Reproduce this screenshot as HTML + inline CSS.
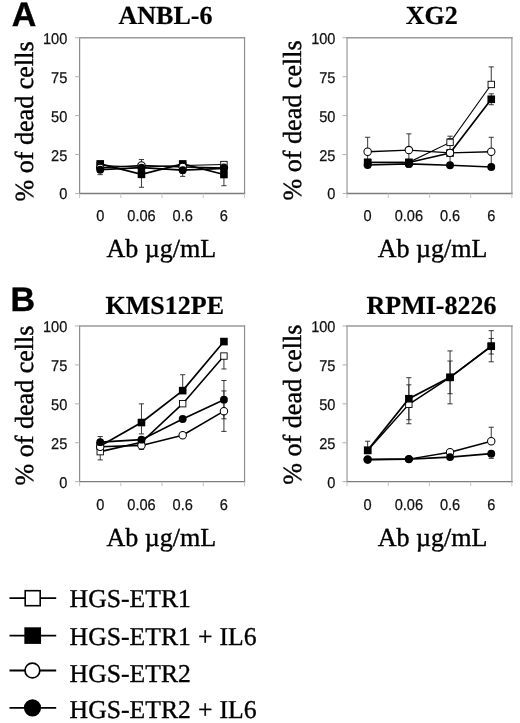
<!DOCTYPE html>
<html lang="en"><head><meta charset="utf-8"><title>Figure</title>
<style>
html,body{margin:0;padding:0;background:#fff;}
body{width:520px;height:723px;overflow:hidden;}
svg{display:block;will-change:transform;filter:blur(0.35px);}
text{fill:#000;text-rendering:geometricPrecision;}
.tk{font-family:"Liberation Sans",sans-serif;font-size:15.6px;fill:#111;stroke:#111;stroke-width:0.25px;}
.tt{font-family:"Liberation Serif",serif;font-weight:bold;font-size:26px;stroke:#000;stroke-width:0.2px;}
.yl{font-family:"Liberation Serif",serif;font-size:26.1px;stroke:#000;stroke-width:0.4px;}
.xl{font-family:"Liberation Serif",serif;font-size:26px;stroke:#000;stroke-width:0.4px;}
.pl{font-family:"Liberation Sans",sans-serif;font-weight:bold;font-size:34px;stroke:#000;stroke-width:0.4px;}
.lg{font-family:"Liberation Serif",serif;font-size:25.7px;word-spacing:0.6px;stroke:#000;stroke-width:0.35px;}
</style></head>
<body>
<svg width="520" height="723" viewBox="0 0 520 723">
<rect x="0" y="0" width="520" height="723" fill="#fff"/>
<g id="A1">
<line x1="79.6" y1="37.15" x2="79.6" y2="194.1" stroke="#8c8c8c" stroke-width="1.2"/>
<line x1="244.55" y1="37.15" x2="244.55" y2="194.1" stroke="#8c8c8c" stroke-width="1.2"/>
<line x1="79" y1="37.75" x2="245.15" y2="37.75" stroke="#9a9a9a" stroke-width="1.3"/>
<line x1="79" y1="193.5" x2="245.15" y2="193.5" stroke="#7c7c7c" stroke-width="1.3"/>
<line x1="75.1" y1="193.5" x2="79.6" y2="193.5" stroke="#b0b0b0" stroke-width="1"/>
<text transform="translate(67.3,199.45) scale(0.936,1)" text-anchor="end" class="tk">0</text>
<line x1="75.1" y1="154.56" x2="79.6" y2="154.56" stroke="#b0b0b0" stroke-width="1"/>
<text transform="translate(67.3,160.51) scale(0.936,1)" text-anchor="end" class="tk">25</text>
<line x1="75.1" y1="115.62" x2="79.6" y2="115.62" stroke="#b0b0b0" stroke-width="1"/>
<text transform="translate(67.3,121.58) scale(0.936,1)" text-anchor="end" class="tk">50</text>
<line x1="75.1" y1="76.69" x2="79.6" y2="76.69" stroke="#b0b0b0" stroke-width="1"/>
<text transform="translate(67.3,82.64) scale(0.936,1)" text-anchor="end" class="tk">75</text>
<line x1="75.1" y1="37.75" x2="79.6" y2="37.75" stroke="#b0b0b0" stroke-width="1"/>
<text transform="translate(67.3,43.7) scale(0.936,1)" text-anchor="end" class="tk">100</text>
<line x1="79.6" y1="193.5" x2="79.6" y2="198" stroke="#c4c4c4" stroke-width="1"/>
<line x1="120.84" y1="193.5" x2="120.84" y2="198" stroke="#c4c4c4" stroke-width="1"/>
<line x1="162.07" y1="193.5" x2="162.07" y2="198" stroke="#c4c4c4" stroke-width="1"/>
<line x1="203.31" y1="193.5" x2="203.31" y2="198" stroke="#c4c4c4" stroke-width="1"/>
<line x1="244.55" y1="193.5" x2="244.55" y2="198" stroke="#c4c4c4" stroke-width="1"/>
<text transform="translate(100.22,221.4) scale(0.936,1)" text-anchor="middle" class="tk">0</text>
<text transform="translate(141.46,221.4) scale(0.936,1)" text-anchor="middle" class="tk">0.06</text>
<text transform="translate(182.69,221.4) scale(0.936,1)" text-anchor="middle" class="tk">0.6</text>
<text transform="translate(223.93,221.4) scale(0.936,1)" text-anchor="middle" class="tk">6</text>
<line x1="141.46" y1="174.34" x2="141.46" y2="187.27" stroke="#222" stroke-width="0.9"/>
<line x1="138.86" y1="187.27" x2="144.06" y2="187.27" stroke="#222" stroke-width="0.9"/>
<line x1="223.93" y1="174.5" x2="223.93" y2="185.71" stroke="#222" stroke-width="0.9"/>
<line x1="221.33" y1="185.71" x2="226.53" y2="185.71" stroke="#222" stroke-width="0.9"/>
<line x1="141.46" y1="159.55" x2="141.46" y2="165.47" stroke="#222" stroke-width="0.9"/>
<line x1="138.86" y1="159.55" x2="144.06" y2="159.55" stroke="#222" stroke-width="0.9"/>
<line x1="100.22" y1="169.67" x2="100.22" y2="174.65" stroke="#222" stroke-width="0.9"/>
<line x1="97.62" y1="174.65" x2="102.82" y2="174.65" stroke="#222" stroke-width="0.9"/>
<line x1="182.69" y1="170.14" x2="182.69" y2="176.37" stroke="#222" stroke-width="0.9"/>
<line x1="180.09" y1="176.37" x2="185.29" y2="176.37" stroke="#222" stroke-width="0.9"/>
<polyline points="100.22,165.47 141.46,167.02 182.69,165.47 223.93,164.53" fill="none" stroke="#000" stroke-width="1.1"/>
<rect x="97.02" y="162.27" width="6.4" height="6.4" fill="#fff" stroke="#000" stroke-width="0.9"/>
<rect x="138.26" y="163.82" width="6.4" height="6.4" fill="#fff" stroke="#000" stroke-width="0.9"/>
<rect x="179.49" y="162.27" width="6.4" height="6.4" fill="#fff" stroke="#000" stroke-width="0.9"/>
<rect x="220.73" y="161.33" width="6.4" height="6.4" fill="#fff" stroke="#000" stroke-width="0.9"/>
<polyline points="100.22,163.91 141.46,174.34 182.69,163.91 223.93,174.5" fill="none" stroke="#000" stroke-width="1.7"/>
<rect x="96.42" y="160.11" width="7.6" height="7.6" fill="#000"/>
<rect x="137.66" y="170.54" width="7.6" height="7.6" fill="#000"/>
<rect x="178.89" y="160.11" width="7.6" height="7.6" fill="#000"/>
<rect x="220.13" y="170.7" width="7.6" height="7.6" fill="#000"/>
<polyline points="100.22,167.8 141.46,165.47 182.69,167.02 223.93,167.8" fill="none" stroke="#000" stroke-width="1.3"/>
<circle cx="100.22" cy="167.8" r="3.7" fill="#fff" stroke="#000" stroke-width="1.05"/>
<circle cx="141.46" cy="165.47" r="3.7" fill="#fff" stroke="#000" stroke-width="1.05"/>
<circle cx="182.69" cy="167.02" r="3.7" fill="#fff" stroke="#000" stroke-width="1.05"/>
<circle cx="223.93" cy="167.8" r="3.7" fill="#fff" stroke="#000" stroke-width="1.05"/>
<polyline points="100.22,169.67 141.46,167.65 182.69,170.14 223.93,168.42" fill="none" stroke="#000" stroke-width="1.6"/>
<circle cx="100.22" cy="169.67" r="3.95" fill="#000"/>
<circle cx="141.46" cy="167.65" r="3.95" fill="#000"/>
<circle cx="182.69" cy="170.14" r="3.95" fill="#000"/>
<circle cx="223.93" cy="168.42" r="3.95" fill="#000"/>
<text x="165.5" y="24" text-anchor="middle" class="tt">ANBL-6</text>
<text transform="translate(33.3,121.52) rotate(-90)" text-anchor="middle" class="yl">% of dead cells</text>
<text x="161.38" y="256.8" text-anchor="middle" class="xl">Ab µg/mL</text>
</g>
<g id="A2">
<line x1="347.05" y1="37.15" x2="347.05" y2="194.1" stroke="#b2b2b2" stroke-width="1.6"/>
<line x1="511.85" y1="37.15" x2="511.85" y2="194.1" stroke="#b2b2b2" stroke-width="1.6"/>
<line x1="346.25" y1="37.75" x2="512.65" y2="37.75" stroke="#9a9a9a" stroke-width="1.3"/>
<line x1="346.25" y1="193.5" x2="512.65" y2="193.5" stroke="#7c7c7c" stroke-width="1.3"/>
<line x1="342.55" y1="193.5" x2="347.05" y2="193.5" stroke="#b0b0b0" stroke-width="1"/>
<text transform="translate(335.5,199.45) scale(0.936,1)" text-anchor="end" class="tk">0</text>
<line x1="342.55" y1="154.56" x2="347.05" y2="154.56" stroke="#b0b0b0" stroke-width="1"/>
<text transform="translate(335.5,160.51) scale(0.936,1)" text-anchor="end" class="tk">25</text>
<line x1="342.55" y1="115.62" x2="347.05" y2="115.62" stroke="#b0b0b0" stroke-width="1"/>
<text transform="translate(335.5,121.58) scale(0.936,1)" text-anchor="end" class="tk">50</text>
<line x1="342.55" y1="76.69" x2="347.05" y2="76.69" stroke="#b0b0b0" stroke-width="1"/>
<text transform="translate(335.5,82.64) scale(0.936,1)" text-anchor="end" class="tk">75</text>
<line x1="342.55" y1="37.75" x2="347.05" y2="37.75" stroke="#b0b0b0" stroke-width="1"/>
<text transform="translate(335.5,43.7) scale(0.936,1)" text-anchor="end" class="tk">100</text>
<line x1="347.05" y1="193.5" x2="347.05" y2="198" stroke="#c4c4c4" stroke-width="1"/>
<line x1="388.25" y1="193.5" x2="388.25" y2="198" stroke="#c4c4c4" stroke-width="1"/>
<line x1="429.45" y1="193.5" x2="429.45" y2="198" stroke="#c4c4c4" stroke-width="1"/>
<line x1="470.65" y1="193.5" x2="470.65" y2="198" stroke="#c4c4c4" stroke-width="1"/>
<line x1="511.85" y1="193.5" x2="511.85" y2="198" stroke="#c4c4c4" stroke-width="1"/>
<text transform="translate(367.65,221.4) scale(0.936,1)" text-anchor="middle" class="tk">0</text>
<text transform="translate(408.85,221.4) scale(0.936,1)" text-anchor="middle" class="tk">0.06</text>
<text transform="translate(450.05,221.4) scale(0.936,1)" text-anchor="middle" class="tk">0.6</text>
<text transform="translate(491.25,221.4) scale(0.936,1)" text-anchor="middle" class="tk">6</text>
<line x1="450.05" y1="136.18" x2="450.05" y2="142.41" stroke="#222" stroke-width="0.9"/>
<line x1="447.45" y1="136.18" x2="452.65" y2="136.18" stroke="#222" stroke-width="0.9"/>
<line x1="491.25" y1="66.88" x2="491.25" y2="84.47" stroke="#222" stroke-width="0.9"/>
<line x1="488.65" y1="66.88" x2="493.85" y2="66.88" stroke="#222" stroke-width="0.9"/>
<line x1="408.85" y1="162.51" x2="408.85" y2="167.33" stroke="#222" stroke-width="0.9"/>
<line x1="406.25" y1="167.33" x2="411.45" y2="167.33" stroke="#222" stroke-width="0.9"/>
<line x1="491.25" y1="93.82" x2="491.25" y2="104.72" stroke="#222" stroke-width="0.9"/>
<line x1="488.65" y1="93.82" x2="493.85" y2="93.82" stroke="#222" stroke-width="0.9"/>
<line x1="488.65" y1="104.72" x2="493.85" y2="104.72" stroke="#222" stroke-width="0.9"/>
<line x1="367.65" y1="137.27" x2="367.65" y2="166.24" stroke="#222" stroke-width="0.9"/>
<line x1="365.05" y1="137.27" x2="370.25" y2="137.27" stroke="#222" stroke-width="0.9"/>
<line x1="365.05" y1="166.24" x2="370.25" y2="166.24" stroke="#222" stroke-width="0.9"/>
<line x1="408.85" y1="133.85" x2="408.85" y2="166.24" stroke="#222" stroke-width="0.9"/>
<line x1="406.25" y1="133.85" x2="411.45" y2="133.85" stroke="#222" stroke-width="0.9"/>
<line x1="406.25" y1="166.24" x2="411.45" y2="166.24" stroke="#222" stroke-width="0.9"/>
<line x1="450.05" y1="138.52" x2="450.05" y2="167.18" stroke="#222" stroke-width="0.9"/>
<line x1="447.45" y1="138.52" x2="452.65" y2="138.52" stroke="#222" stroke-width="0.9"/>
<line x1="447.45" y1="167.18" x2="452.65" y2="167.18" stroke="#222" stroke-width="0.9"/>
<line x1="491.25" y1="137.27" x2="491.25" y2="166.24" stroke="#222" stroke-width="0.9"/>
<line x1="488.65" y1="137.27" x2="493.85" y2="137.27" stroke="#222" stroke-width="0.9"/>
<line x1="488.65" y1="166.24" x2="493.85" y2="166.24" stroke="#222" stroke-width="0.9"/>
<polyline points="367.65,162.35 408.85,162.35 450.05,142.41 491.25,84.47" fill="none" stroke="#000" stroke-width="1.1"/>
<rect x="364.45" y="159.15" width="6.4" height="6.4" fill="#fff" stroke="#000" stroke-width="0.9"/>
<rect x="405.65" y="159.15" width="6.4" height="6.4" fill="#fff" stroke="#000" stroke-width="0.9"/>
<rect x="446.85" y="139.21" width="6.4" height="6.4" fill="#fff" stroke="#000" stroke-width="0.9"/>
<rect x="488.05" y="81.27" width="6.4" height="6.4" fill="#fff" stroke="#000" stroke-width="0.9"/>
<polyline points="367.65,162.51 408.85,162.51 450.05,153 491.25,99.27" fill="none" stroke="#000" stroke-width="1.7"/>
<rect x="363.85" y="158.71" width="7.6" height="7.6" fill="#000"/>
<rect x="405.05" y="158.71" width="7.6" height="7.6" fill="#000"/>
<rect x="446.25" y="149.2" width="7.6" height="7.6" fill="#000"/>
<rect x="487.45" y="95.47" width="7.6" height="7.6" fill="#000"/>
<polyline points="367.65,151.76 408.85,150.05 450.05,152.85 491.25,151.76" fill="none" stroke="#000" stroke-width="1.3"/>
<circle cx="367.65" cy="151.76" r="3.7" fill="#fff" stroke="#000" stroke-width="1.05"/>
<circle cx="408.85" cy="150.05" r="3.7" fill="#fff" stroke="#000" stroke-width="1.05"/>
<circle cx="450.05" cy="152.85" r="3.7" fill="#fff" stroke="#000" stroke-width="1.05"/>
<circle cx="491.25" cy="151.76" r="3.7" fill="#fff" stroke="#000" stroke-width="1.05"/>
<polyline points="367.65,165 408.85,163.91 450.05,165.31 491.25,167.02" fill="none" stroke="#000" stroke-width="1.6"/>
<circle cx="367.65" cy="165" r="3.95" fill="#000"/>
<circle cx="408.85" cy="163.91" r="3.95" fill="#000"/>
<circle cx="450.05" cy="165.31" r="3.95" fill="#000"/>
<circle cx="491.25" cy="167.02" r="3.95" fill="#000"/>
<text x="431.7" y="24" text-anchor="middle" class="tt">XG2</text>
<text transform="translate(300.75,120.42) rotate(-90)" text-anchor="middle" class="yl">% of dead cells</text>
<text x="432.55" y="256.8" text-anchor="middle" class="xl">Ab µg/mL</text>
</g>
<g id="B1">
<line x1="79.6" y1="325.4" x2="79.6" y2="482.3" stroke="#8c8c8c" stroke-width="1.2"/>
<line x1="244.55" y1="325.4" x2="244.55" y2="482.3" stroke="#8c8c8c" stroke-width="1.2"/>
<line x1="79" y1="326" x2="245.15" y2="326" stroke="#9a9a9a" stroke-width="1.3"/>
<line x1="79" y1="481.7" x2="245.15" y2="481.7" stroke="#7c7c7c" stroke-width="1.3"/>
<line x1="75.1" y1="481.7" x2="79.6" y2="481.7" stroke="#b0b0b0" stroke-width="1"/>
<text transform="translate(67.3,487.65) scale(0.936,1)" text-anchor="end" class="tk">0</text>
<line x1="75.1" y1="442.77" x2="79.6" y2="442.77" stroke="#b0b0b0" stroke-width="1"/>
<text transform="translate(67.3,448.72) scale(0.936,1)" text-anchor="end" class="tk">25</text>
<line x1="75.1" y1="403.85" x2="79.6" y2="403.85" stroke="#b0b0b0" stroke-width="1"/>
<text transform="translate(67.3,409.8) scale(0.936,1)" text-anchor="end" class="tk">50</text>
<line x1="75.1" y1="364.93" x2="79.6" y2="364.93" stroke="#b0b0b0" stroke-width="1"/>
<text transform="translate(67.3,370.88) scale(0.936,1)" text-anchor="end" class="tk">75</text>
<line x1="75.1" y1="326" x2="79.6" y2="326" stroke="#b0b0b0" stroke-width="1"/>
<text transform="translate(67.3,331.95) scale(0.936,1)" text-anchor="end" class="tk">100</text>
<line x1="79.6" y1="481.7" x2="79.6" y2="486.2" stroke="#c4c4c4" stroke-width="1"/>
<line x1="120.84" y1="481.7" x2="120.84" y2="486.2" stroke="#c4c4c4" stroke-width="1"/>
<line x1="162.07" y1="481.7" x2="162.07" y2="486.2" stroke="#c4c4c4" stroke-width="1"/>
<line x1="203.31" y1="481.7" x2="203.31" y2="486.2" stroke="#c4c4c4" stroke-width="1"/>
<line x1="244.55" y1="481.7" x2="244.55" y2="486.2" stroke="#c4c4c4" stroke-width="1"/>
<text transform="translate(100.22,509.6) scale(0.936,1)" text-anchor="middle" class="tk">0</text>
<text transform="translate(141.46,509.6) scale(0.936,1)" text-anchor="middle" class="tk">0.06</text>
<text transform="translate(182.69,509.6) scale(0.936,1)" text-anchor="middle" class="tk">0.6</text>
<text transform="translate(223.93,509.6) scale(0.936,1)" text-anchor="middle" class="tk">6</text>
<line x1="100.22" y1="451.65" x2="100.22" y2="459.9" stroke="#222" stroke-width="0.9"/>
<line x1="97.62" y1="459.9" x2="102.82" y2="459.9" stroke="#222" stroke-width="0.9"/>
<line x1="223.93" y1="356.05" x2="223.93" y2="368.97" stroke="#222" stroke-width="0.9"/>
<line x1="221.33" y1="368.97" x2="226.53" y2="368.97" stroke="#222" stroke-width="0.9"/>
<line x1="141.46" y1="403.85" x2="141.46" y2="433.9" stroke="#222" stroke-width="0.9"/>
<line x1="138.86" y1="403.85" x2="144.06" y2="403.85" stroke="#222" stroke-width="0.9"/>
<line x1="138.86" y1="433.9" x2="144.06" y2="433.9" stroke="#222" stroke-width="0.9"/>
<line x1="182.69" y1="374.73" x2="182.69" y2="390.62" stroke="#222" stroke-width="0.9"/>
<line x1="180.09" y1="374.73" x2="185.29" y2="374.73" stroke="#222" stroke-width="0.9"/>
<line x1="141.46" y1="445.42" x2="141.46" y2="449.47" stroke="#222" stroke-width="0.9"/>
<line x1="138.86" y1="449.47" x2="144.06" y2="449.47" stroke="#222" stroke-width="0.9"/>
<line x1="223.93" y1="390.93" x2="223.93" y2="431.41" stroke="#222" stroke-width="0.9"/>
<line x1="221.33" y1="390.93" x2="226.53" y2="390.93" stroke="#222" stroke-width="0.9"/>
<line x1="221.33" y1="431.41" x2="226.53" y2="431.41" stroke="#222" stroke-width="0.9"/>
<line x1="100.22" y1="436.55" x2="100.22" y2="442.15" stroke="#222" stroke-width="0.9"/>
<line x1="97.62" y1="436.55" x2="102.82" y2="436.55" stroke="#222" stroke-width="0.9"/>
<line x1="223.93" y1="380.5" x2="223.93" y2="418.8" stroke="#222" stroke-width="0.9"/>
<line x1="221.33" y1="380.5" x2="226.53" y2="380.5" stroke="#222" stroke-width="0.9"/>
<line x1="221.33" y1="418.8" x2="226.53" y2="418.8" stroke="#222" stroke-width="0.9"/>
<polyline points="100.22,451.65 141.46,442.31 182.69,403.69 223.93,356.05" fill="none" stroke="#000" stroke-width="1.6"/>
<rect x="97.02" y="448.45" width="6.4" height="6.4" fill="#fff" stroke="#000" stroke-width="0.9"/>
<rect x="138.26" y="439.11" width="6.4" height="6.4" fill="#fff" stroke="#000" stroke-width="0.9"/>
<rect x="179.49" y="400.49" width="6.4" height="6.4" fill="#fff" stroke="#000" stroke-width="0.9"/>
<rect x="220.73" y="352.85" width="6.4" height="6.4" fill="#fff" stroke="#000" stroke-width="0.9"/>
<polyline points="100.22,445.89 141.46,422.53 182.69,390.62 223.93,341.57" fill="none" stroke="#000" stroke-width="1.7"/>
<rect x="96.42" y="442.09" width="7.6" height="7.6" fill="#000"/>
<rect x="137.66" y="418.73" width="7.6" height="7.6" fill="#000"/>
<rect x="178.89" y="386.82" width="7.6" height="7.6" fill="#000"/>
<rect x="220.13" y="337.77" width="7.6" height="7.6" fill="#000"/>
<polyline points="100.22,446.82 141.46,445.42 182.69,435.3 223.93,411.17" fill="none" stroke="#000" stroke-width="1.6"/>
<circle cx="100.22" cy="446.82" r="3.7" fill="#fff" stroke="#000" stroke-width="1.05"/>
<circle cx="141.46" cy="445.42" r="3.7" fill="#fff" stroke="#000" stroke-width="1.05"/>
<circle cx="182.69" cy="435.3" r="3.7" fill="#fff" stroke="#000" stroke-width="1.05"/>
<circle cx="223.93" cy="411.17" r="3.7" fill="#fff" stroke="#000" stroke-width="1.05"/>
<polyline points="100.22,442.15 141.46,439.66 182.69,418.95 223.93,399.65" fill="none" stroke="#000" stroke-width="1.65"/>
<circle cx="100.22" cy="442.15" r="3.95" fill="#000"/>
<circle cx="141.46" cy="439.66" r="3.95" fill="#000"/>
<circle cx="182.69" cy="418.95" r="3.95" fill="#000"/>
<circle cx="223.93" cy="399.65" r="3.95" fill="#000"/>
<text x="164.8" y="313.9" text-anchor="middle" class="tt">KMS12PE</text>
<text transform="translate(33.3,405.55) rotate(-90)" text-anchor="middle" class="yl">% of dead cells</text>
<text x="161.38" y="546.4" text-anchor="middle" class="xl">Ab µg/mL</text>
</g>
<g id="B2">
<line x1="347.05" y1="325.4" x2="347.05" y2="482.3" stroke="#b2b2b2" stroke-width="1.6"/>
<line x1="511.85" y1="325.4" x2="511.85" y2="482.3" stroke="#b2b2b2" stroke-width="1.6"/>
<line x1="346.25" y1="326" x2="512.65" y2="326" stroke="#9a9a9a" stroke-width="1.3"/>
<line x1="346.25" y1="481.7" x2="512.65" y2="481.7" stroke="#7c7c7c" stroke-width="1.3"/>
<line x1="342.55" y1="481.7" x2="347.05" y2="481.7" stroke="#b0b0b0" stroke-width="1"/>
<text transform="translate(335.5,487.65) scale(0.936,1)" text-anchor="end" class="tk">0</text>
<line x1="342.55" y1="442.77" x2="347.05" y2="442.77" stroke="#b0b0b0" stroke-width="1"/>
<text transform="translate(335.5,448.72) scale(0.936,1)" text-anchor="end" class="tk">25</text>
<line x1="342.55" y1="403.85" x2="347.05" y2="403.85" stroke="#b0b0b0" stroke-width="1"/>
<text transform="translate(335.5,409.8) scale(0.936,1)" text-anchor="end" class="tk">50</text>
<line x1="342.55" y1="364.93" x2="347.05" y2="364.93" stroke="#b0b0b0" stroke-width="1"/>
<text transform="translate(335.5,370.88) scale(0.936,1)" text-anchor="end" class="tk">75</text>
<line x1="342.55" y1="326" x2="347.05" y2="326" stroke="#b0b0b0" stroke-width="1"/>
<text transform="translate(335.5,331.95) scale(0.936,1)" text-anchor="end" class="tk">100</text>
<line x1="347.05" y1="481.7" x2="347.05" y2="486.2" stroke="#c4c4c4" stroke-width="1"/>
<line x1="388.25" y1="481.7" x2="388.25" y2="486.2" stroke="#c4c4c4" stroke-width="1"/>
<line x1="429.45" y1="481.7" x2="429.45" y2="486.2" stroke="#c4c4c4" stroke-width="1"/>
<line x1="470.65" y1="481.7" x2="470.65" y2="486.2" stroke="#c4c4c4" stroke-width="1"/>
<line x1="511.85" y1="481.7" x2="511.85" y2="486.2" stroke="#c4c4c4" stroke-width="1"/>
<text transform="translate(367.65,509.6) scale(0.936,1)" text-anchor="middle" class="tk">0</text>
<text transform="translate(408.85,509.6) scale(0.936,1)" text-anchor="middle" class="tk">0.06</text>
<text transform="translate(450.05,509.6) scale(0.936,1)" text-anchor="middle" class="tk">0.6</text>
<text transform="translate(491.25,509.6) scale(0.936,1)" text-anchor="middle" class="tk">6</text>
<line x1="408.85" y1="384.85" x2="408.85" y2="423.78" stroke="#222" stroke-width="0.9"/>
<line x1="406.25" y1="384.85" x2="411.45" y2="384.85" stroke="#222" stroke-width="0.9"/>
<line x1="406.25" y1="423.78" x2="411.45" y2="423.78" stroke="#222" stroke-width="0.9"/>
<line x1="450.05" y1="361.03" x2="450.05" y2="393.73" stroke="#222" stroke-width="0.9"/>
<line x1="447.45" y1="361.03" x2="452.65" y2="361.03" stroke="#222" stroke-width="0.9"/>
<line x1="447.45" y1="393.73" x2="452.65" y2="393.73" stroke="#222" stroke-width="0.9"/>
<line x1="491.25" y1="338.46" x2="491.25" y2="354.03" stroke="#222" stroke-width="0.9"/>
<line x1="488.65" y1="338.46" x2="493.85" y2="338.46" stroke="#222" stroke-width="0.9"/>
<line x1="488.65" y1="354.03" x2="493.85" y2="354.03" stroke="#222" stroke-width="0.9"/>
<line x1="367.65" y1="441.22" x2="367.65" y2="450.25" stroke="#222" stroke-width="0.9"/>
<line x1="365.05" y1="441.22" x2="370.25" y2="441.22" stroke="#222" stroke-width="0.9"/>
<line x1="408.85" y1="377.69" x2="408.85" y2="419.73" stroke="#222" stroke-width="0.9"/>
<line x1="406.25" y1="377.69" x2="411.45" y2="377.69" stroke="#222" stroke-width="0.9"/>
<line x1="406.25" y1="419.73" x2="411.45" y2="419.73" stroke="#222" stroke-width="0.9"/>
<line x1="450.05" y1="350.91" x2="450.05" y2="403.85" stroke="#222" stroke-width="0.9"/>
<line x1="447.45" y1="350.91" x2="452.65" y2="350.91" stroke="#222" stroke-width="0.9"/>
<line x1="447.45" y1="403.85" x2="452.65" y2="403.85" stroke="#222" stroke-width="0.9"/>
<line x1="491.25" y1="330.67" x2="491.25" y2="361.81" stroke="#222" stroke-width="0.9"/>
<line x1="488.65" y1="330.67" x2="493.85" y2="330.67" stroke="#222" stroke-width="0.9"/>
<line x1="488.65" y1="361.81" x2="493.85" y2="361.81" stroke="#222" stroke-width="0.9"/>
<line x1="491.25" y1="427.2" x2="491.25" y2="441.22" stroke="#222" stroke-width="0.9"/>
<line x1="488.65" y1="427.2" x2="493.85" y2="427.2" stroke="#222" stroke-width="0.9"/>
<line x1="491.25" y1="453.67" x2="491.25" y2="458.34" stroke="#222" stroke-width="0.9"/>
<line x1="488.65" y1="458.34" x2="493.85" y2="458.34" stroke="#222" stroke-width="0.9"/>
<polyline points="367.65,450.56 408.85,404.32 450.05,377.38 491.25,346.24" fill="none" stroke="#000" stroke-width="1.4"/>
<rect x="364.45" y="447.36" width="6.4" height="6.4" fill="#fff" stroke="#000" stroke-width="0.9"/>
<rect x="405.65" y="401.12" width="6.4" height="6.4" fill="#fff" stroke="#000" stroke-width="0.9"/>
<rect x="446.85" y="374.18" width="6.4" height="6.4" fill="#fff" stroke="#000" stroke-width="0.9"/>
<rect x="488.05" y="343.04" width="6.4" height="6.4" fill="#fff" stroke="#000" stroke-width="0.9"/>
<polyline points="367.65,450.25 408.85,398.71 450.05,377.38 491.25,346.24" fill="none" stroke="#000" stroke-width="1.75"/>
<rect x="363.85" y="446.45" width="7.6" height="7.6" fill="#000"/>
<rect x="405.05" y="394.91" width="7.6" height="7.6" fill="#000"/>
<rect x="446.25" y="373.58" width="7.6" height="7.6" fill="#000"/>
<rect x="487.45" y="342.44" width="7.6" height="7.6" fill="#000"/>
<polyline points="367.65,459.59 408.85,459.12 450.05,452.27 491.25,441.22" fill="none" stroke="#000" stroke-width="1.5"/>
<circle cx="367.65" cy="459.59" r="3.7" fill="#fff" stroke="#000" stroke-width="1.05"/>
<circle cx="408.85" cy="459.12" r="3.7" fill="#fff" stroke="#000" stroke-width="1.05"/>
<circle cx="450.05" cy="452.27" r="3.7" fill="#fff" stroke="#000" stroke-width="1.05"/>
<circle cx="491.25" cy="441.22" r="3.7" fill="#fff" stroke="#000" stroke-width="1.05"/>
<polyline points="367.65,459.59 408.85,459.12 450.05,457.1 491.25,453.67" fill="none" stroke="#000" stroke-width="1.8"/>
<circle cx="367.65" cy="459.59" r="3.95" fill="#000"/>
<circle cx="408.85" cy="459.12" r="3.95" fill="#000"/>
<circle cx="450.05" cy="457.1" r="3.95" fill="#000"/>
<circle cx="491.25" cy="453.67" r="3.95" fill="#000"/>
<text x="431.5" y="313.5" text-anchor="middle" class="tt">RPMI-8226</text>
<text transform="translate(300.75,404.65) rotate(-90)" text-anchor="middle" class="yl">% of dead cells</text>
<text x="432.55" y="546.4" text-anchor="middle" class="xl">Ab µg/mL</text>
</g>
<text x="11.8" y="26.2" class="pl">A</text>
<text x="10.5" y="310.6" class="pl">B</text>
<line x1="9.5" y1="598.2" x2="56.2" y2="598.2" stroke="#000" stroke-width="1.8"/>
<rect x="25.2" y="590.7" width="15" height="15" fill="#fff" stroke="#000" stroke-width="1.6"/>
<text x="69.6" y="607.4" class="lg">HGS-ETR1</text>
<line x1="9.5" y1="635.6" x2="56.2" y2="635.6" stroke="#000" stroke-width="1.8"/>
<rect x="24.35" y="627.3" width="16.7" height="16.6" fill="#000"/>
<text x="69.6" y="645.2" class="lg">HGS-ETR1 + IL6</text>
<line x1="9.5" y1="670.5" x2="56.2" y2="670.5" stroke="#000" stroke-width="1.8"/>
<circle cx="32.4" cy="670.5" r="7.4" fill="#fff" stroke="#000" stroke-width="1.7"/>
<text x="69.6" y="681.5" class="lg">HGS-ETR2</text>
<line x1="9.5" y1="707.8" x2="56.2" y2="707.8" stroke="#000" stroke-width="1.8"/>
<circle cx="32.5" cy="707.8" r="8.6" fill="#000"/>
<text x="69.6" y="718.0" class="lg">HGS-ETR2 + IL6</text>
</svg>
</body></html>
